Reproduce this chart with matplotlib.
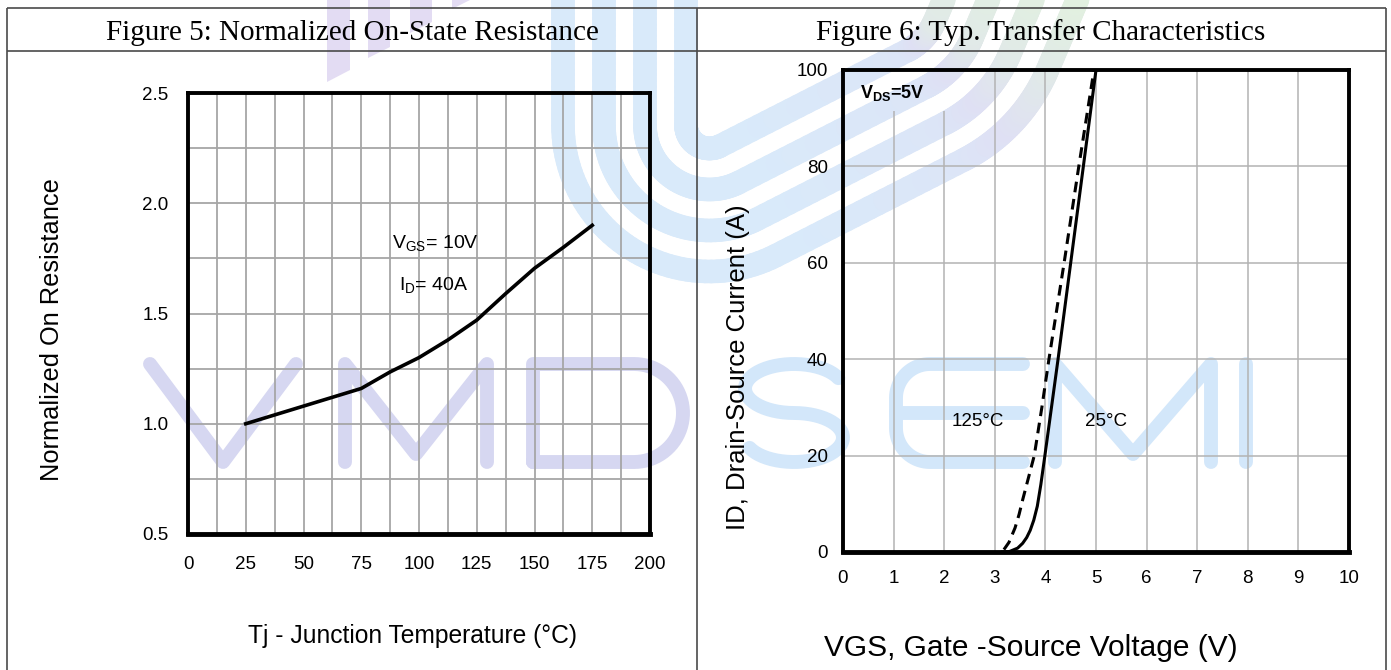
import matplotlib

matplotlib.use("Agg")
import matplotlib.pyplot as plt
import numpy as np
from matplotlib.collections import LineCollection
from matplotlib.colors import LinearSegmentedColormap
from matplotlib.patches import Polygon

plt.rcParams["font.family"] = ["Liberation Sans", "DejaVu Sans"]
plt.rcParams["mathtext.fontset"] = "custom"
plt.rcParams["mathtext.rm"] = "Liberation Sans"
plt.rcParams["mathtext.bf"] = "Liberation Sans:bold"
plt.rcParams["mathtext.it"] = "Liberation Sans:italic"

# Figure 5: normalized on-resistance vs junction temperature
tj = [25, 50, 75, 87.5, 100, 112.5, 125, 137.5, 150, 162.5, 175]
rds_norm = [1.00, 1.08, 1.16, 1.235, 1.30, 1.38, 1.47, 1.59, 1.705, 1.80, 1.90]
tj_ticks = [0, 25, 50, 75, 100, 125, 150, 175, 200]
rds_ticks = [0.5, 1.0, 1.5, 2.0, 2.5]

# Figure 6: transfer characteristics at VDS = 5 V
vgs_25 = [3.15, 3.29, 3.45, 3.55, 3.63, 3.70, 3.77, 3.84, 3.91, 3.99, 4.12, 4.25, 4.50, 4.75, 5.00]
id_25 = [0, 0.1, 0.8, 1.8, 3.0, 4.5, 6.6, 9.5, 14.0, 20, 30, 40, 60, 80, 100]
vgs_125 = [3.18, 3.28, 3.40, 3.48, 3.55, 3.66, 3.78, 3.93, 4.07, 4.37, 4.66, 4.96]
id_125 = [0.5, 2.0, 5.0, 7.8, 10.8, 15.2, 20, 30, 40, 60, 80, 100]
vgs_ticks = list(range(11))
id_ticks = [0, 20, 40, 60, 80, 100]

W, H = 1391, 670
fig = plt.figure(figsize=(W / 100, H / 100), dpi=100)


def box(x0, y0, x1, y1, **kw):
    """Axes placed by pixel edges, y counted from the top."""
    return fig.add_axes([x0 / W, 1 - y1 / H, (x1 - x0) / W, (y1 - y0) / H], **kw)


bg = box(0, 0, W, H, zorder=0)
bg.set_xlim(0, W)
bg.set_ylim(H, 0)
bg.axis("off")

# --- background watermark -------------------------------------------------
LAV = "#d6d7f1"
SKY = "#d3e7fa"
T, B, MID = 364, 462, 413


def stroke(xs, ys, color):
    bg.plot(xs, ys, color=color, lw=10, solid_capstyle="round",
            solid_joinstyle="round", zorder=1)


def arc(cx, cy, rx, ry, a0, a1, n=40):
    a = np.radians(np.linspace(a0, a1, n))
    return cx + rx * np.cos(a), cy - ry * np.sin(a)


# V M D
stroke([150, 223, 296], [T, B, T], LAV)
stroke([345, 345, 416, 487, 487], [B, T, B - 8, T, B], LAV)
ax_, ay_ = arc(634, MID, 49, 49, 90, -90)
stroke(np.r_[533, 533, 634, ax_, 533], np.r_[B, T, T, ay_, B], LAV)
# S E M I
sx1, sy1 = arc(794, T + 24.5, 49, 24.5, 25, 270)
sx2, sy2 = arc(794, B - 24.5, 49, 24.5, 90, -155)
stroke(np.r_[sx1, sx2], np.r_[sy1, sy2], SKY)
ex, ey = arc(930, T + 34, 34, 34, 90, 180, 20)
ex2, ey2 = arc(930, B - 34, 34, 34, 180, 270, 20)
stroke(np.r_[1023, ex, ex2, 1023], np.r_[T, ey, ey2, B], SKY)
stroke([896, 1023], [MID, MID], SKY)
stroke([1055, 1055, 1133, 1211, 1211], [B, T, B - 8, T, B], SKY)
stroke([1246, 1246], [T, B], SKY)

# slanted bars of the logo
for xl, xr, yl, yr in [(327, 350, 82, 70), (368, 390, 58, 47), (410, 432, 33, 22), (452, 470, 9, 0)]:
    bg.add_patch(Polygon([(xl, -5), (xr, -5), (xr, yr), (xl, yl)], closed=True,
                         fc="#e3dcf3", ec="none", zorder=1))


def hook_centerline():
    """Centerline of the logo hook: straight runs joined by left turns."""
    pos = np.array([624.5, -10.0])
    heading = -90.0
    pts = [pos.copy()]
    steps = [("s", 135), ("t", 117, 85), ("s", 210), ("t", 40, 120), ("s", 90)]
    for st in steps:
        if st[0] == "s":
            a = np.radians(heading)
            d = np.array([np.cos(a), -np.sin(a)])
            for f in np.linspace(0, 1, 25)[1:]:
                pts.append(pos + d * st[1] * f)
            pos = pos + d * st[1]
        else:
            ang, r = st[1], st[2]
            a0 = np.radians(heading)
            c = pos + r * np.array([-np.sin(a0), -np.cos(a0)])
            for a in np.radians(np.linspace(heading, heading + ang, 50)[1:]):
                pts.append(c + r * np.array([np.sin(a), np.cos(a)]))
            heading += ang
            pos = pts[-1].copy()
    return np.array(pts)


cl = hook_centerline()
tang = np.gradient(cl, axis=0)
tang /= np.linalg.norm(tang, axis=1)[:, None]
left = np.column_stack([tang[:, 1], -tang[:, 0]])
band_cmap = LinearSegmentedColormap.from_list(
    "hook", [(0, "#d9eafa"), (0.45, "#d9eafa"), (0.7, "#dfe0f4"), (1, "#e2f1df")])
for off in [-61.5, -20.5, 20.5, 61.5]:
    p = cl + left * off
    segs = np.stack([p[:-1], p[1:]], axis=1)
    t = np.linspace(0, 1, len(segs))
    bg.add_collection(LineCollection(segs, colors=band_cmap(t), linewidths=17,
                                     capstyle="round", zorder=1))

# --- table frame and headers ----------------------------------------------
frame = dict(color="#4a4a4a", lw=1.2, zorder=3, solid_capstyle="butt")
bg.plot([7, 1386], [8, 8], **frame)
bg.plot([7, 1386], [51, 51], **frame)
for xv in [7, 697, 1386]:
    bg.plot([xv, xv], [8, H + 5], **frame)

serif = dict(family="Liberation Serif", size=21, ha="center", va="baseline", zorder=4)
bg.text(352, 40, "Figure 5: Normalized On-State Resistance", **serif)
bg.text(1041, 40, "Figure 6: Typ. Transfer Characteristics", **serif)

# axis titles
bg.text(52, 330, "Normalized On Resistance", rotation=90, size=18.3,
        ha="center", va="center", zorder=4)
bg.text(413, 636, "Tj - Junction Temperature (°C)", size=17.7,
        ha="center", va="center", zorder=4)
bg.text(738, 367, "ID, Drain-Source Current (A)", rotation=90, size=18.5,
        ha="center", va="center", zorder=4)
bg.text(1031, 648, "VGS, Gate -Source Voltage (V)", size=21.5,
        ha="center", va="center", zorder=4)


def style(ax):
    ax.set_facecolor("none")
    for side in ["left", "right", "top"]:
        ax.spines[side].set_linewidth(2.8)
    ax.spines["bottom"].set_linewidth(3.5)
    ax.tick_params(which="both", length=0, labelsize=13.5)


# --- Figure 5 -------------------------------------------------------------
ax1 = box(188, 93, 650, 534, zorder=2)
style(ax1)
ax1.set_xlim(0, 200)
ax1.set_ylim(0.5, 2.5)
ax1.set_xticks(tj_ticks)
ax1.set_yticks(rds_ticks)
ax1.set_xticks([12.5 + 25 * k for k in range(8)], minor=True)
ax1.set_yticks([0.75, 1.25, 1.75, 2.25], minor=True)
ax1.grid(which="both", color="#a6a6a6", lw=1.3)
ax1.tick_params(axis="x", pad=16)
ax1.tick_params(axis="y", pad=14)
ax1.plot(tj, rds_norm, color="black", lw=2.6, solid_joinstyle="round")
ax1.text(107.3, 1.818, r"V$_{\mathrm{GS}}$= 10V", size=14, ha="center", va="center")
ax1.text(106.5, 1.629, r"I$_{\mathrm{D}}$= 40A", size=14, ha="center", va="center")

# --- Figure 6 -------------------------------------------------------------
ax2 = box(843, 70, 1349, 552, zorder=2)
style(ax2)
ax2.set_xlim(0, 10)
ax2.set_ylim(0, 100)
ax2.set_xticks(vgs_ticks)
ax2.set_yticks(id_ticks)
grid_kw = dict(color="#b3b3b3", lw=1.1, zorder=0.5)
for xv in vgs_ticks[1:-1]:
    ax2.vlines(xv, 0, 91.5 if xv < 3 else 100, **grid_kw)
for yv in id_ticks[1:-1]:
    ax2.hlines(yv, 0, 10, **grid_kw)
ax2.tick_params(axis="x", pad=13)
ax2.tick_params(axis="y", pad=11)
ax2.plot(vgs_25, id_25, color="black", lw=2.2, solid_joinstyle="round")
ax2.plot(vgs_125, id_125, color="black", lw=2.2, dashes=(3.5, 2.2))
ax2.text(0.34, 95.2, r"V$_{\mathbf{DS}}$=5V", size=13, weight="bold", ha="left", va="center")
ax2.text(2.67, 27.1, "125°C", size=13.5, ha="center", va="center")
ax2.text(5.2, 27.1, "25°C", size=13.5, ha="center", va="center")

fig.savefig("out.png", dpi=100)
